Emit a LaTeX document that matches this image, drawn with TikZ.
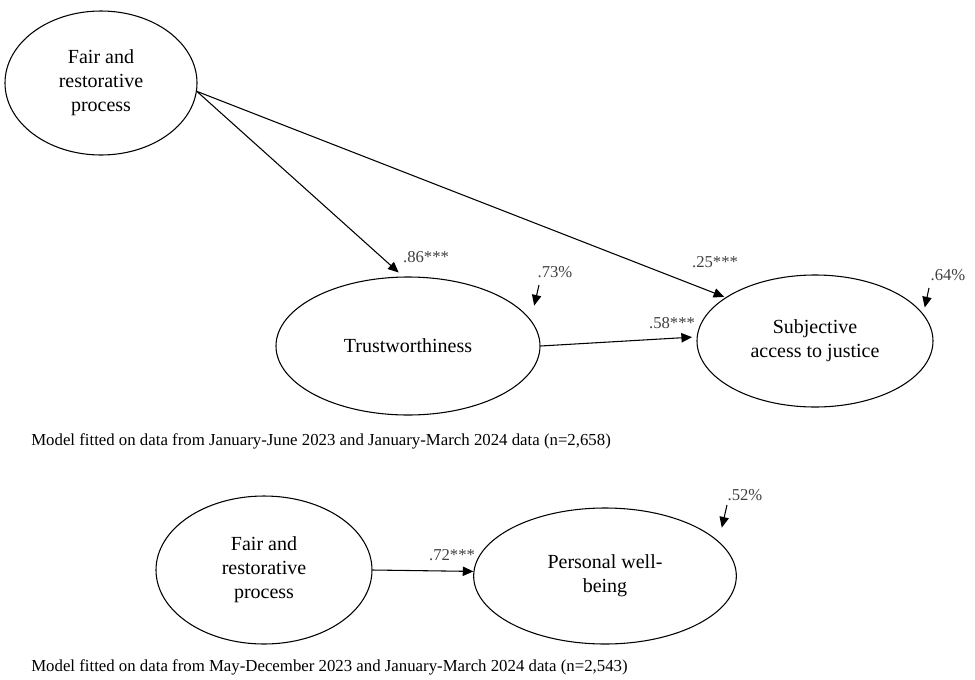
\documentclass[tikz,border=0pt]{standalone}
\usepackage{fontspec}
\setmainfont{Liberation Serif}
\usetikzlibrary{shapes.geometric,arrows.meta}

\begin{document}
\begin{tikzpicture}[x=0.75pt, y=-0.75pt,
  latent/.style={ellipse, draw, line width=0.8pt, inner sep=0pt, align=center,
    font=\fontsize{15}{18}\selectfont},
  coef/.style={font=\fontsize{12.5}{14}\selectfont, text=black!75, inner sep=0pt},
  effect/.style={-{Triangle[length=8pt,width=7pt]}, line width=0.8pt},
  caption/.style={anchor=west, font=\fontsize{12.6}{14}\selectfont, inner sep=0pt}]
  \useasboundingbox (0,0) rectangle (975,679);

  % first model
  \node[latent, minimum width=144pt, minimum height=108pt] (fairA) at (101,83)
    {Fair and\\restorative\\process};
  \node[latent, minimum width=198pt, minimum height=103.5pt] (trust) at (408,346)
    {Trustworthiness};
  \node[latent, minimum width=177pt, minimum height=99pt] (access) at (815,341)
    {Subjective\\access to justice};

  \draw[effect, shorten >=4.5pt] (fairA.-5) -- (trust.94);
  \draw[effect, shorten >=1pt] (fairA.-5) -- (access.154);
  \draw[effect, shorten >=3.5pt] (trust.east) -- (access.178);

  \node[coef] (b86) at (426,257) {.86***};
  \node[coef] (b25) at (715,262) {.25***};
  \node[coef] (b58) at (672,323) {.58***};

  \node[coef] (r73) at (555,272) {.73\%};
  \node[coef] (r64) at (948,275) {.64\%};
  \coordinate (e73) at (539,285);
  \coordinate (e64) at (929,288);
  \draw[effect, shorten >=11pt] (e73) -- (trust.12);
  \draw[effect, shorten >=5pt] (e64) -- (access.14);

  \node[caption] (capA) at (31,441)
    {Model fitted on data from January-June 2023 and January-March 2024 data (n=2,658)};

  % second model
  \node[latent, minimum width=162pt, minimum height=111pt] (fairB) at (264,570)
    {Fair and\\restorative\\process};
  \node[latent, minimum width=197pt, minimum height=102pt] (wellb) at (605,576)
    {Personal well-\\being};

  \draw[effect] (fairB.east) -- (wellb.178);
  \node[coef] (b72) at (452,555) {.72***};

  \node[coef] (r52) at (745,495) {.52\%};
  \coordinate (e52) at (727,505);
  \draw[effect, shorten >=10.5pt] (e52) -- (wellb.17);

  \node[caption] (capB) at (31,667)
    {Model fitted on data from May-December 2023 and January-March 2024 data (n=2,543)};
\end{tikzpicture}
\end{document}
